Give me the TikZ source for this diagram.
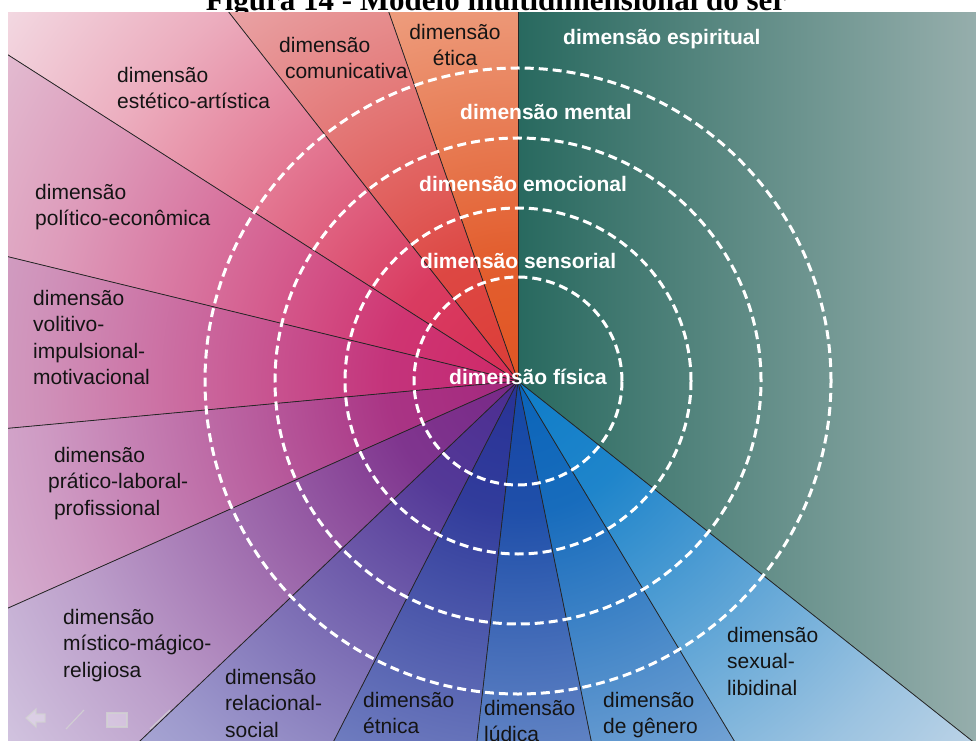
\documentclass[tikz,border=0pt]{standalone}
\usepackage{fontspec}
\newfontfamily\dimfont{Liberation Sans}
\newfontfamily\titlefont{Liberation Serif}
\usetikzlibrary{calc}

\definecolor{etiA}{RGB}{225,85,35}   \definecolor{etiB}{RGB}{247,212,195}
\definecolor{comA}{RGB}{220,60,55}   \definecolor{comB}{RGB}{238,205,210}
\definecolor{estA}{RGB}{215,45,85}   \definecolor{estB}{RGB}{244,224,232}
\definecolor{polA}{RGB}{205,40,105}  \definecolor{polB}{RGB}{228,200,218}
\definecolor{volA}{RGB}{195,40,115}  \definecolor{volB}{RGB}{212,185,212}
\definecolor{praA}{RGB}{165,40,125}  \definecolor{praB}{RGB}{222,198,222}
\definecolor{misA}{RGB}{120,40,135}  \definecolor{misB}{RGB}{214,204,228}
\definecolor{relA}{RGB}{75,45,145}   \definecolor{relB}{RGB}{190,196,228}
\definecolor{etnA}{RGB}{40,50,150}   \definecolor{etnB}{RGB}{160,176,220}
\definecolor{ludA}{RGB}{20,70,165}   \definecolor{ludB}{RGB}{165,186,224}
\definecolor{genA}{RGB}{10,100,185}  \definecolor{genB}{RGB}{178,200,228}
\definecolor{sexA}{RGB}{15,125,200}  \definecolor{sexB}{RGB}{210,222,234}
\definecolor{espA}{RGB}{40,105,95}   \definecolor{espM}{RGB}{58,118,110}
\definecolor{espB}{RGB}{150,174,172}

\colorlet{secA}{etiA}
\colorlet{secB}{etiB}
\pgfdeclareradialshading[secA,secB]{fade}{\pgfpoint{0bp}{0bp}}{%
  color(0bp)=(secA); color(5bp)=(secA!92!secB); color(12.5bp)=(secA!55!secB);
  color(18bp)=(secA!28!secB); color(25bp)=(secB); color(50bp)=(secB)}

\tikzset{
  dim/.style={anchor=north west, align=left, inner sep=0pt, text=black!92,
    font=\dimfont\fontsize{21}{26.5}\selectfont},
  core/.style={anchor=base west, inner sep=0pt, text=white,
    font=\dimfont\bfseries\fontsize{21}{26}\selectfont},
  ring/.style={draw=white, line width=3pt, dash pattern=on 9pt off 5pt},
  ray/.style={draw=black!85, line width=0.8pt},
  navicon/.style={draw=white!65!gray, fill=white, fill opacity=0.3,
    line width=1.2pt, draw opacity=0.8}
}

\begin{document}
\begin{tikzpicture}[x=1pt,y=1pt]
\useasboundingbox (0,0) rectangle (976,740);
\coordinate (c) at (518,359);

\node[anchor=base, inner sep=0pt, font=\titlefont\bfseries\fontsize{31}{36}\selectfont]
  (titulo) at (496,729) {Figura 14 - Modelo multidimensional do ser};

\begin{scope}
\clip (8,0) rectangle (976,727);
\begin{scope}
  \clip (c) -- ++(-38.4:1000) arc[start angle=-38.4, end angle=90, radius=1000] -- cycle;
  \fill[left color=espA, middle color=espM, right color=espB] (518,0) rectangle (976,740);
\end{scope}
\foreach \a/\b/\ci/\co in {90/109.3/etiA/etiB, 109.3/128.1/comA/comB,
    128.1/147.4/estA/estB, 147.4/166.3/polA/polB, 166.3/185.3/volA/volB,
    185.3/204/praA/praB, 204/223.6/misA/misB, 223.6/242.9/relA/relB,
    242.9/263.5/etnA/etnB, 263.5/281.5/ludA/ludB, 281.5/301/genA/genB,
    301/321.6/sexA/sexB}{
  \begin{scope}
    \colorlet{secA}{\ci}
    \colorlet{secB}{\co}
    \clip (c) -- ++(\a:1000) arc[start angle=\a, end angle=\b, radius=1000] -- cycle;
    \fill[shading=fade] (c) circle (660);
  \end{scope}
}
\foreach \a in {90,109.3,128.1,147.4,166.3,185.3,204,223.6,242.9,263.5,281.5,301,321.6}
  \draw[ray] (c) -- ++(\a:1000);
\foreach \r in {104,173,243,313}
  \draw[ring] (c) circle (\r);
\end{scope}

\draw[navicon] (26,22) -- (36,31) -- (36,26) -- (45,26) -- (45,18) -- (36,18) -- (36,13) -- cycle;
\draw[navicon] (66,11) -- (84,30);
\draw[navicon] (107,13) rectangle (127,27);
\draw[navicon] (150,11) -- (170,30);

\node[dim, anchor=north, align=center] (etica) at (455,716) {dimensão\\ética};
\node[dim] (comunic) at (279,703) {dimensão\\\ comunicativa};
\node[dim] (estetico) at (117,673) {dimensão\\estético-artística};
\node[dim] (politico) at (35,556) {dimensão\\político-econômica};
\node[dim] (volitivo) at (33,450) {dimensão\\volitivo-\\impulsional-\\motivacional};
\node[dim] (pratico) at (48,293) {\ dimensão\\prático-laboral-\\\ profissional};
\node[dim] (mistico) at (63,131) {dimensão\\místico-mágico-\\religiosa};
\node[dim] (relacional) at (225,71) {dimensão\\relacional-\\social};
\node[dim] (etnica) at (363,48) {dimensão\\étnica};
\node[dim] (ludica) at (484,40) {dimensão\\lúdica};
\node[dim] (genero) at (603,48) {dimensão\\de gênero};
\node[dim] (sexual) at (727,113) {dimensão\\sexual-\\libidinal};

\node[core] (espiritual) at (563,695) {dimensão espiritual};
\node[core] (mental) at (460,620) {dimensão mental};
\node[core] (emocional) at (419,548) {dimensão emocional};
\node[core] (sensorial) at (420,471) {dimensão sensorial};
\node[core] (fisica) at (449,356) {dimensão física};
\end{tikzpicture}
\end{document}
